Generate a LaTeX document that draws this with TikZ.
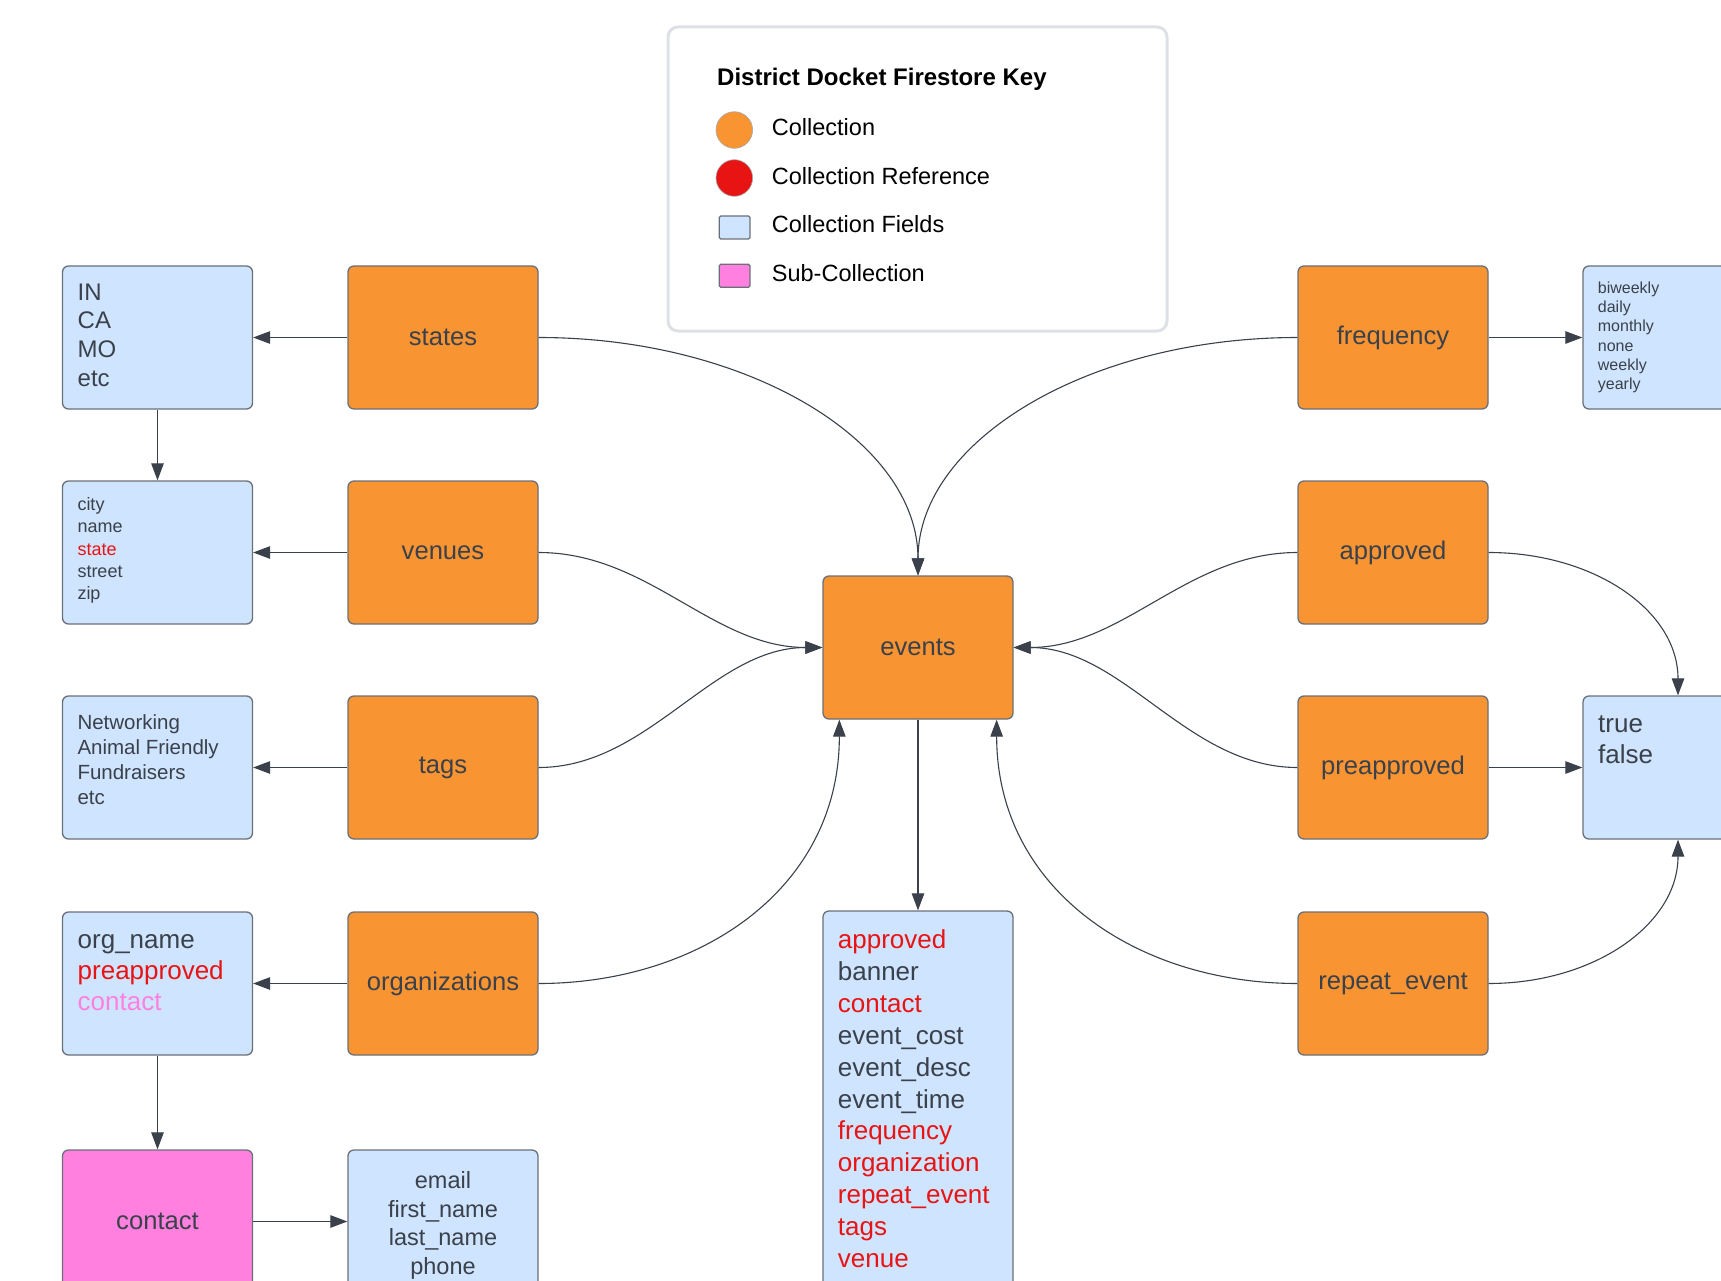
\documentclass[tikz,border=0pt]{standalone}
\usepackage{fontspec}
\setmainfont{Liberation Sans}
\usetikzlibrary{arrows.meta,positioning}
\definecolor{collorange}{HTML}{F99433}
\definecolor{fieldblue}{HTML}{CFE4FF}
\definecolor{subpink}{HTML}{FF80DF}
\definecolor{refred}{HTML}{E81313}
\definecolor{inkgray}{HTML}{3A414A}
\definecolor{edgegray}{HTML}{6B7078}
\definecolor{keyborder}{HTML}{DDE1E6}
\newcommand{\fsz}[2]{\fontsize{#1}{#2}\selectfont}

\begin{document}
\begin{tikzpicture}[x=1pt,y=-1pt,
  coll/.style={draw=edgegray, line width=1.3pt, fill=collorange, rounded corners=6pt,
    minimum width=190pt, minimum height=143pt, inner sep=0pt, text=inkgray, font=\fsz{25.6}{30}},
  fieldbox/.style={coll, fill=fieldblue},
  subcoll/.style={coll, fill=subpink},
  fieldtext/.style={anchor=west, align=left, inner sep=0pt, text=inkgray},
  conn/.style={draw=inkgray, line width=1.1pt, -{Triangle[length=17pt,width=12.5pt]}},
  keydot/.style={circle, draw=edgegray!60, line width=0.6pt, minimum size=36.6pt, inner sep=0pt},
  keysq/.style={draw=edgegray, line width=1.3pt, rounded corners=1.5pt, minimum width=30.7pt, minimum height=23pt, inner sep=0pt},
  keytext/.style={anchor=west, inner sep=0pt, text=black, font=\fsz{23.5}{28}},
]
\useasboundingbox (0,0) rectangle (1721,1281);
\clip (0,0) rectangle (1721,1281);

% key
\node[draw=keyborder, line width=3pt, rounded corners=10pt, minimum width=499pt, minimum height=304pt] (key) at (917.5,179) {};
\node[anchor=west, inner sep=0pt, font=\bfseries\fsz{24}{28}] (keytitle) at (717,79) {District Docket Firestore Key};
\node[keydot, fill=collorange] (kcoll) at (734.3,130) {};
\node[keydot, fill=refred] (kref) at (734.3,178) {};
\node[keysq, fill=fieldblue] (kfield) at (734.6,227.5) {};
\node[keysq, fill=subpink] (ksub) at (734.6,275.8) {};
\node[keytext] (kcolltxt) at (771.7,127) {Collection};
\node[keytext] (kreftxt) at (771.7,175.7) {Collection Reference};
\node[keytext] (kfieldtxt) at (771.7,224) {Collection Fields};
\node[keytext] (ksubtxt) at (771.7,273) {Sub-Collection};

% collections
\node[coll] (states) at (443,337.5) {states};
\node[coll] (venues) at (443,552.5) {venues};
\node[coll] (tags) at (443,767.5) {tags};
\node[coll] (orgs) at (443,983.5) {organizations};
\node[coll] (events) at (918,647.5) {events};
\node[coll] (frequency) at (1393,337.5) {frequency};
\node[coll] (approved) at (1393,552.5) {approved};
\node[coll] (preapproved) at (1393,767.5) {preapproved};
\node[coll] (repeat) at (1393,983.5) {repeat\_event};
\node[subcoll] (contact) at (157.5,1221.5) {contact};

% fields
\node[fieldbox] (stlist) at (157.5,337.5) {};
\node[fieldbox] (vnlist) at (157.5,552.5) {};
\node[fieldbox] (tglist) at (157.5,767.5) {};
\node[fieldbox] (orglist) at (157.5,983.5) {};
\node[fieldbox] (ctlist) at (443,1221.5) {};
\node[fieldbox, minimum height=400pt] (evlist) at (918,1111) {};
\node[fieldbox] (frlist) at (1678,337.5) {};
\node[fieldbox] (tflist) at (1678,767.5) {};

\node[fieldtext, font=\fsz{24}{28.7}] (sttext) at (77.5,335) {IN\\CA\\MO\\etc};
\node[fieldtext, font=\fsz{18}{22.3}] (vntext) at (77.3,550.5) {city\\name\\\textcolor{refred}{state}\\street\\zip};
\node[fieldtext, font=\fsz{20.5}{25}] (tgtext) at (77.3,759.3) {Networking\\Animal Friendly\\Fundraisers\\etc};
\node[fieldtext, font=\fsz{26}{31}] (orgtext) at (77.5,972.5) {org\_name\\\textcolor{refred}{preapproved}\\\textcolor{subpink}{contact}};
\node[fieldtext, anchor=center, align=center, font=\fsz{23.5}{28.7}] (cttext) at (443,1225.5) {email\\first\_name\\last\_name\\phone};
\node[fieldtext, font=\fsz{26}{31.9}] (evtext) at (837.7,1098.7) {\textcolor{refred}{approved}\\banner\\\textcolor{refred}{contact}\\event\_cost\\event\_desc\\event\_time\\\textcolor{refred}{frequency}\\\textcolor{refred}{organization}\\\textcolor{refred}{repeat\_event}\\\textcolor{refred}{tags}\\\textcolor{refred}{venue}};
\node[fieldtext, font=\fsz{16}{19.3}] (frtext) at (1597.7,337.5) {biweekly\\daily\\monthly\\none\\weekly\\yearly};
\node[fieldtext, font=\fsz{26}{31}] (tftext) at (1598,740) {true\\false};

% straight links
\draw[conn] (states.west) -- (stlist.east);
\draw[conn] (stlist.south) -- (vnlist.north);
\draw[conn] (venues.west) -- (vnlist.east);
\draw[conn] (tags.west) -- (tglist.east);
\draw[conn] (orgs.west) -- (orglist.east);
\draw[conn] (orglist.south) -- (contact.north);
\draw[conn] (contact.east) -- (ctlist.west);
\draw[conn] (events.south) -- (evlist.north);
\draw[conn] (frequency.east) -- (frlist.west);
\draw[conn] (preapproved.east) -- (tflist.west);

% curved links into events
\draw[conn] (states.east) .. controls +(208,0) and +(0,-135) .. (events.north);
\draw[conn] (frequency.west) .. controls +(-208,0) and +(0,-135) .. (events.north);
\draw[conn] (venues.east) .. controls +(110,0) and +(-110,0) .. (events.west);
\draw[conn] (tags.east) .. controls +(110,0) and +(-110,0) .. (events.west);
\draw[conn] (approved.west) .. controls +(-110,0) and +(110,0) .. (events.east);
\draw[conn] (preapproved.west) .. controls +(-110,0) and +(110,0) .. (events.east);
\draw[conn] (orgs.east) .. controls +(160,0) and +(0,170) .. ([xshift=17pt]events.south west);
\draw[conn] (repeat.west) .. controls +(-160,0) and +(0,170) .. ([xshift=-17pt]events.south east);

% links to true / false
\draw[conn] (approved.east) .. controls +(105,0) and +(0,-85) .. (tflist.north);
\draw[conn] (repeat.east) .. controls +(105,0) and +(0,85) .. (tflist.south);
\end{tikzpicture}
\end{document}
